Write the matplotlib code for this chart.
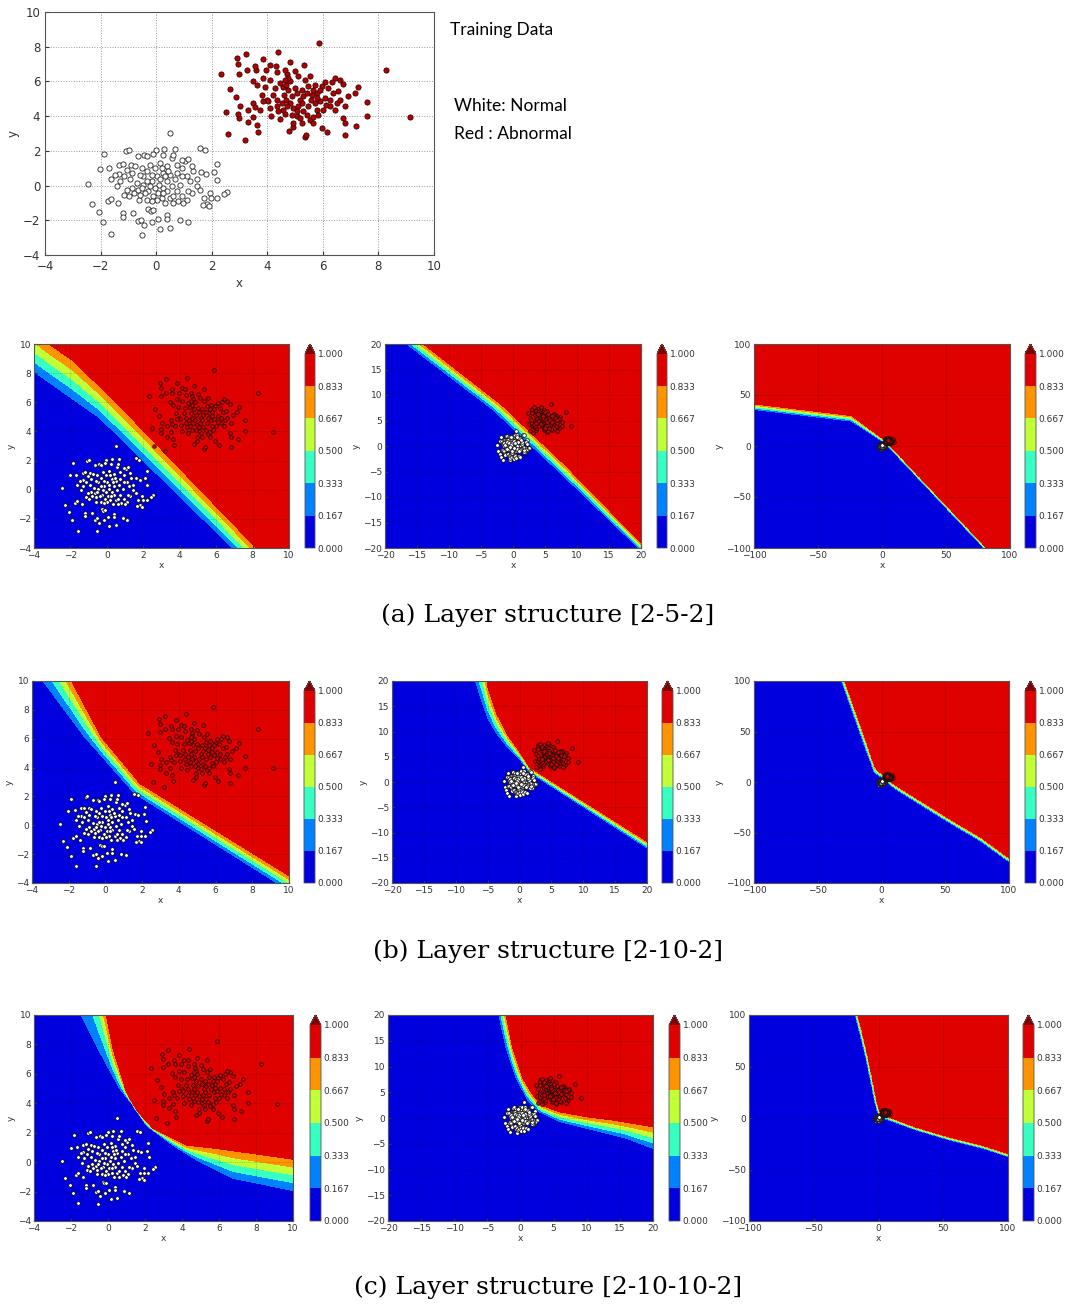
import numpy as np
import matplotlib
matplotlib.use('Agg')
import matplotlib.pyplot as plt

# ==========================================
# training data
# ==========================================
normal_points = [
    (-2.46, 0.10), (-2.32, -1.06), (-2.02, 0.98), (-2.07, -1.52), (-1.90, -2.10), (-1.86, 1.84),
    (-1.61, -2.80), (-1.68, 1.04), (-1.63, 0.35), (-1.75, -0.88), (-1.62, -0.77), (-1.42, -0.04),
    (-1.36, -1.00), (-1.21, -1.57), (-1.21, -1.79), (-1.08, 1.98), (-0.98, 2.05), (-1.33, 1.17),
    (-1.18, 1.23), (-1.33, 0.67), (-1.06, 0.92), (-0.91, 1.17), (-0.82, -1.57), (-0.67, -2.05),
    (-0.54, -1.96), (-0.52, -2.82), (-0.43, -2.27), (-0.66, 1.73), (-0.43, 1.75), (-0.76, 1.11),
    (-0.94, 0.35), (-0.79, -0.42), (-0.60, -0.81), (-0.64, -0.23), (-0.46, 0.06), (-0.48, 0.54),
    (-0.34, -0.81), (-0.28, -1.34), (-0.19, -1.44), (-0.10, -1.42), (-0.16, -2.11), (0.08, -1.90),
    (0.14, -2.50), (0.38, -1.67), (0.38, -1.90), (0.50, -2.44), (0.86, -1.96), (1.13, -2.09),
    (0.50, 3.03), (-0.02, 2.04), (-0.10, 1.82), (0.24, 1.79), (0.29, 2.11), (0.68, 2.11),
    (0.14, 1.31), (0.38, 1.11), (0.56, 1.59), (0.74, 1.21), (0.92, 1.02), (1.04, 1.40),
    (1.16, 1.54), (1.58, 2.15), (1.75, 2.07), (1.61, 0.79), (1.80, 0.69), (2.18, 1.27),
    (2.10, 0.79), (2.20, 0.33), (2.54, -0.35), (2.44, -0.48), (2.18, -0.73), (1.94, -0.42),
    (1.96, -0.73), (1.82, -1.08), (1.92, -1.19), (1.67, -1.13), (1.73, -0.71), (1.46, -0.04),
    (1.58, -0.23), (1.28, -0.42), (1.16, -0.33), (1.22, 0.25), (1.10, 0.54), (0.92, 0.54),
    (0.86, 0.06), (0.74, -0.33), (0.92, -0.61), (0.80, -0.90), (0.62, -1.00), (0.50, -0.71),
    (0.32, -1.00), (0.20, -0.71), (0.08, -0.42), (0.26, -0.13), (0.38, 0.25), (0.50, 0.63),
    (0.26, 0.73), (0.02, 0.54), (-0.16, 0.25), (-0.28, -0.33), (-0.10, -0.61), (0.02, -0.81),
    (-0.34, 0.83), (-0.52, 1.02), (-0.22, 1.21), (-0.04, 1.02), (0.14, 0.35), (0.12, 0.06),
    (-0.04, -0.13), (-0.22, -0.04), (-0.40, -0.42), (-0.58, -0.52), (-0.70, 0.15), (-0.88, -0.13),
    (-1.06, -0.23), (-1.15, -0.52), (-0.96, -0.61), (-1.15, 0.54), (-1.48, 0.63), (-1.30, 0.25),
    (0.92, 1.50), (0.62, 1.79), (0.44, 0.83), (0.68, 0.35), (0.56, -0.04), (0.38, -0.33),
    (0.62, -0.61), (1.10, -0.81), (0.98, -1.00), (1.46, 0.35), (1.34, 0.83), (1.28, 1.15),
    (-0.34, 1.69), (-0.88, 0.73), (-0.58, 0.63), (-0.16, 0.63), (0.20, 1.02), (-0.34, 0.25),
    (-0.52, -0.13), (-0.16, -0.90), (0.23, -0.42), (0.74, 0.73), (0.32, 0.54),
]

abnormal_points = [
    (5.87, 8.20), (8.29, 6.64), (9.12, 3.94), (2.34, 6.40), (2.66, 5.57), (2.90, 7.34),
    (3.23, 7.59), (2.50, 4.22), (2.58, 3.00), (3.20, 2.63), (2.88, 5.09), (2.96, 6.99),
    (3.26, 6.64), (2.97, 6.45), (3.86, 7.30), (4.40, 7.68), (4.80, 7.10), (5.33, 6.93),
    (7.58, 4.00), (7.58, 4.80), (7.28, 5.67), (7.14, 5.34), (7.20, 3.46), (6.80, 3.63),
    (6.80, 2.94), (6.74, 3.90), (6.74, 5.86), (6.62, 6.10), (6.42, 6.22), (6.14, 3.10),
    (5.96, 3.32), (5.36, 2.80), (5.40, 2.94), (4.78, 3.17), (4.94, 3.36), (3.66, 3.10),
    (3.64, 3.50), (3.29, 3.65), (2.99, 3.90), (2.96, 4.15), (3.00, 4.60), (3.47, 6.05),
    (3.62, 5.78), (3.60, 6.64), (3.57, 6.91), (3.95, 6.64), (4.10, 6.95), (4.30, 6.91),
    (4.34, 6.53), (3.92, 5.66), (3.98, 4.95), (3.74, 4.38), (3.50, 3.96), (4.08, 4.47),
    (4.34, 4.57), (4.13, 4.00), (4.46, 3.86), (4.65, 4.13), (5.06, 4.00), (5.24, 3.61),
    (5.54, 3.80), (5.66, 3.96), (5.78, 4.34), (5.72, 4.76), (5.90, 4.86), (6.08, 5.05),
    (6.26, 4.95), (6.38, 5.34), (6.20, 5.63), (5.96, 5.72), (5.72, 5.82), (5.48, 5.76),
    (5.24, 5.53), (5.00, 5.63), (4.82, 6.01), (4.70, 6.40), (4.64, 6.64), (4.73, 6.22),
    (4.56, 5.69), (4.61, 5.24), (4.66, 4.95), (4.82, 4.76), (4.94, 4.47), (5.12, 4.57),
    (5.18, 4.95), (5.30, 5.15), (5.42, 5.34), (5.60, 5.24), (5.78, 5.34), (5.90, 5.53),
    (5.66, 5.53), (5.48, 4.57), (5.30, 4.28), (5.06, 4.28), (4.88, 4.09), (4.72, 4.57),
    (4.52, 4.76), (4.34, 4.95), (4.22, 5.24), (4.28, 5.63), (4.46, 5.92), (4.10, 6.10),
    (3.86, 6.20), (3.80, 5.24), (4.04, 4.86), (3.86, 4.86), (3.50, 4.76), (3.32, 4.38),
    (3.56, 4.53), (6.26, 4.57), (6.44, 4.38), (6.50, 4.76), (6.62, 4.95), (6.56, 5.43),
    (6.32, 5.99), (6.08, 5.95), (6.00, 4.38), (5.84, 4.09), (5.66, 3.61), (5.42, 4.09),
    (5.18, 3.90), (4.94, 3.61), (4.58, 4.38), (4.40, 4.28), (4.88, 5.15), (5.06, 5.34),
    (4.76, 5.53), (5.57, 4.95), (5.78, 5.05), (5.36, 6.10), (5.12, 6.30), (5.00, 6.59),
    (5.54, 6.30), (6.80, 4.57), (6.92, 5.15), (6.10, 4.66), (5.24, 4.76), (4.64, 6.10),
    (4.67, 5.82),
]

# ==========================================
# decision boundaries:
# lower edge = blue/0.167 contour, upper edge = 0.833/red contour
# ==========================================
# (a) [2-5-2]
a1_lo_x = [-4, -0.4, 6.9, 10];            a1_lo_y = [8.1, 4.93, -4, -7.8]
a1_hi_x = [-4, -3.2, -1.9, 0.5, 8.2, 10]; a1_hi_y = [10.8, 10, 8.9, 6.0, -4, -6.3]
a2_lo_x = [-20, -16.6, -3.1, 7.0, 19.6, 20]; a2_lo_y = [23.2, 20, 7.1, -4.8, -20, -20.5]
a2_hi_x = [-20, -14, -1.8, 8.2, 20];         a2_hi_y = [25.8, 20, 8.1, -3.8, -19.0]
a3_lo_x = [-100, -23.8, 2.3, 80.7, 100];  a3_lo_y = [35.8, 24.3, 3.0, -101.4, -127]
a3_hi_x = [-100, -23.8, 2.3, 80.7, 100];  a3_hi_y = [41.3, 29.8, 5.8, -98.6, -124.4]

# (b) [2-10-2]
b1_lo_x = [-4, -3.4, -1.12, 1.6, 9.35, 10]; b1_lo_y = [11.03, 10, 6.1, 2.2, -4, -4.52]
b1_hi_x = [-4, -1.85, -0.21, 1.88, 10];     b1_hi_y = [15.1, 10, 6.1, 2.9, -3.5]
b2_lo_x = [-20, -6.3, -5.8, -4.9, -3.6, -1.8, 0.0, 1.6, 20]
b2_lo_y = [75.5, 17.5, 15.5, 12.5, 9.6, 6.8, 4.55, 1.9, -13.05]
b2_hi_x = [-20, -6.3, -5.8, -4.9, -3.6, -1.8, 0.0, 1.6, 20]
b2_hi_y = [84.5, 26.5, 24.5, 18.5, 13.6, 9.2, 6.05, 2.9, -11.75]
b3_lo_x = [-100, -30, -20.9, -11.7, -5.2, 1.3, 10.4, 31.3, 52.2, 78.3, 100]
b3_lo_y = [343.5, 95.5, 63.3, 30.4, 8.8, 3.8, -6.6, -23, -39.5, -59, -79]
b3_hi_x = [-100, -30, -20.9, -11.7, -5.2, 1.3, 10.4, 31.3, 52.2, 78.3, 100]
b3_hi_y = [352.5, 104.5, 72.3, 39.4, 14.8, 6.8, -2.6, -19, -35.5, -55, -75]

# (c) [2-10-10-2]
c1_lo_x = [-4, -1.44, -0.45, 0.63, 1.35, 2.07, 3.5, 4.95, 6.76, 10]
c1_lo_y = [16.5, 10, 7.5, 5, 3.87, 2.5, 1.15, 0.02, -1.1, -1.93]
c1_hi_x = [-4, -0.09, 0.27, 0.99, 1.53, 2.43, 4.23, 5.86, 10]
c1_hi_y = [35, 10, 7.7, 4.8, 3.55, 2.3, 1.16, 0.93, 0.2]
c2_lo_x = [-20, -3.26, -2.16, -0.65, 1.1, 2.86, 5.9, 9.9, 15.9, 20]
c2_lo_y = [119, 20, 13.5, 7.7, 3.5, 1.2, -0.7, -2.0, -3.9, -5.9]
c2_hi_x = [-20, -2.16, -1.16, 0.35, 1.86, 3.1, 5.9, 9.9, 13.9, 20]
c2_hi_y = [136, 20, 13.5, 7.7, 4.5, 2.5, 1.2, 0.26, -0.4, -1.7]
c3_lo_x = [-100, -16.9, -13, -9.2, -6.6, -4, -1.4, 1.2, 7.6, 28.3, 54, 79.9, 100]
c3_lo_y = [510, 95, 75.6, 56, 40, 23.8, 8.6, 0.9, -1.8, -11.4, -21.1, -29.2, -37.4]
c3_hi_x = c3_lo_x
c3_hi_y = [520, 105, 85.6, 66, 50, 33.8, 16.6, 4.9, 1.2, -8.6, -18.3, -26.4, -34.6]

levels = np.linspace(0, 1, 7)
level_labels = ['0.000', '0.167', '0.333', '0.500', '0.667', '0.833', '1.000']
captions = ['(a) Layer structure [2-5-2]', '(b) Layer structure [2-10-2]',
            '(c) Layer structure [2-10-10-2]']

# ==========================================
# layout (pixel boxes: left, top, right, bottom)
# ==========================================
W, H = 1067, 1304
fig = plt.figure(figsize=(W / 100, H / 100), dpi=100)


def ax_at(l, t, r, b):
    return fig.add_axes([l / W, 1 - b / H, (r - l) / W, (b - t) / H])


def field(xx, yy, lo_x, lo_y, hi_x, hi_y):
    lo = np.interp(xx, lo_x, lo_y)
    hi = np.interp(xx, hi_x, hi_y)
    v = 1 / 6 + (2 / 3) * (yy - lo) / (hi - lo)
    return np.clip(v, 0, 0.999)


nx = np.array([p[0] for p in normal_points]); ny = np.array([p[1] for p in normal_points])
rx = np.array([p[0] for p in abnormal_points]); ry = np.array([p[1] for p in abnormal_points])

edge_col = '#555555'

# --- training data ---
ax0 = ax_at(45, 12, 434, 255)
ax0.scatter(nx, ny, s=14, facecolor='white', edgecolor='#222222', linewidth=0.6, zorder=3)
ax0.scatter(rx, ry, s=14, facecolor='#b30000', edgecolor='#3a0000', linewidth=0.6, zorder=3)
ax0.set_xlim(-4, 10); ax0.set_ylim(-4, 10)
ax0.set_xticks(range(-4, 11, 2)); ax0.set_yticks(range(-4, 11, 2))
ax0.grid(True, linestyle=':', color='#999999', linewidth=0.7)
ax0.tick_params(labelsize=8.5, direction='in', colors='#333333', length=3)
ax0.set_xlabel('x', fontsize=8.5, color='#333333', labelpad=3)
ax0.set_ylabel('y', fontsize=8.5, color='#333333', labelpad=2)
for s in ax0.spines.values():
    s.set_color(edge_col)

fig.text(450 / W, 1 - 30 / H, 'Training Data', fontsize=12.5, family='Lato', va='center', ha='left')
fig.text(454 / W, 1 - 106 / H, 'White: Normal', fontsize=12.5, family='Lato', va='center', ha='left')
fig.text(454 / W, 1 - 134 / H, 'Red : Abnormal', fontsize=12.5, family='Lato', va='center', ha='left')

# --- decision surfaces ---
panels = [
    # axes box, colorbar box, range, ticks, boundary
    ((34, 344, 289, 548), (305, 344, 315, 548), 10, range(-4, 11, 2), (a1_lo_x, a1_lo_y, a1_hi_x, a1_hi_y)),
    ((385, 344, 641, 548), (657, 344, 667, 548), 20, range(-20, 21, 5), (a2_lo_x, a2_lo_y, a2_hi_x, a2_hi_y)),
    ((754, 344, 1010, 548), (1025, 344, 1036, 548), 100, range(-100, 101, 50), (a3_lo_x, a3_lo_y, a3_hi_x, a3_hi_y)),
    ((32, 681, 289, 883), (304, 681, 315, 883), 10, range(-4, 11, 2), (b1_lo_x, b1_lo_y, b1_hi_x, b1_hi_y)),
    ((392, 681, 647, 883), (662, 681, 673, 883), 20, range(-20, 21, 5), (b2_lo_x, b2_lo_y, b2_hi_x, b2_hi_y)),
    ((754, 681, 1009, 883), (1025, 681, 1036, 883), 100, range(-100, 101, 50), (b3_lo_x, b3_lo_y, b3_hi_x, b3_hi_y)),
    ((34, 1015, 293, 1221), (310, 1015, 321, 1221), 10, range(-4, 11, 2), (c1_lo_x, c1_lo_y, c1_hi_x, c1_hi_y)),
    ((388, 1015, 653, 1221), (669, 1015, 680, 1221), 20, range(-20, 21, 5), (c2_lo_x, c2_lo_y, c2_hi_x, c2_hi_y)),
    ((749, 1015, 1008, 1221), (1023, 1015, 1034, 1221), 100, range(-100, 101, 50), (c3_lo_x, c3_lo_y, c3_hi_x, c3_hi_y)),
]

for box, cbox, rng, ticks, bnd in panels:
    lo_v = -4 if rng == 10 else -rng
    n = 220 if rng == 10 else (200 if rng == 20 else 130)
    gx = np.linspace(lo_v, rng, n)
    gy = np.linspace(lo_v, rng, n)
    XX, YY = np.meshgrid(gx, gy)
    Z = field(XX, YY, *bnd)

    ax = ax_at(*box)
    cs = ax.contourf(XX, YY, Z, levels=levels, cmap='jet', extend='max')
    ax.scatter(nx, ny, s=7, facecolor='white', edgecolor='black', linewidth=0.5, zorder=3)
    ax.scatter(rx, ry, s=7, facecolor='#d00000', edgecolor='#111111', linewidth=0.5, zorder=3)
    ax.set_xlim(lo_v, rng); ax.set_ylim(lo_v, rng)
    ax.set_xticks(list(ticks)); ax.set_yticks(list(ticks))
    ax.grid(True, linestyle=':', color='black', linewidth=0.5, alpha=0.35)
    ax.tick_params(labelsize=6.5, direction='in', colors='#333333', length=2, pad=2)
    ax.set_xlabel('x', fontsize=6.5, color='#333333', labelpad=1)
    ax.set_ylabel('y', fontsize=6.5, color='#333333', labelpad=2)
    for s in ax.spines.values():
        s.set_color(edge_col)

    cax = ax_at(*cbox)
    cb = fig.colorbar(cs, cax=cax, ticks=levels)
    cb.ax.set_yticklabels(level_labels)
    cb.ax.tick_params(labelsize=6.5, colors='#333333', length=0, pad=2)
    cb.outline.set_edgecolor(edge_col)
    cb.outline.set_linewidth(0.6)

# --- captions ---
for cap, yc in zip(captions, [615, 951, 1287]):
    fig.text(548 / W, 1 - yc / H, cap, fontsize=18, family='DejaVu Serif', ha='center', va='center')

plt.savefig('out.png', dpi=100)
